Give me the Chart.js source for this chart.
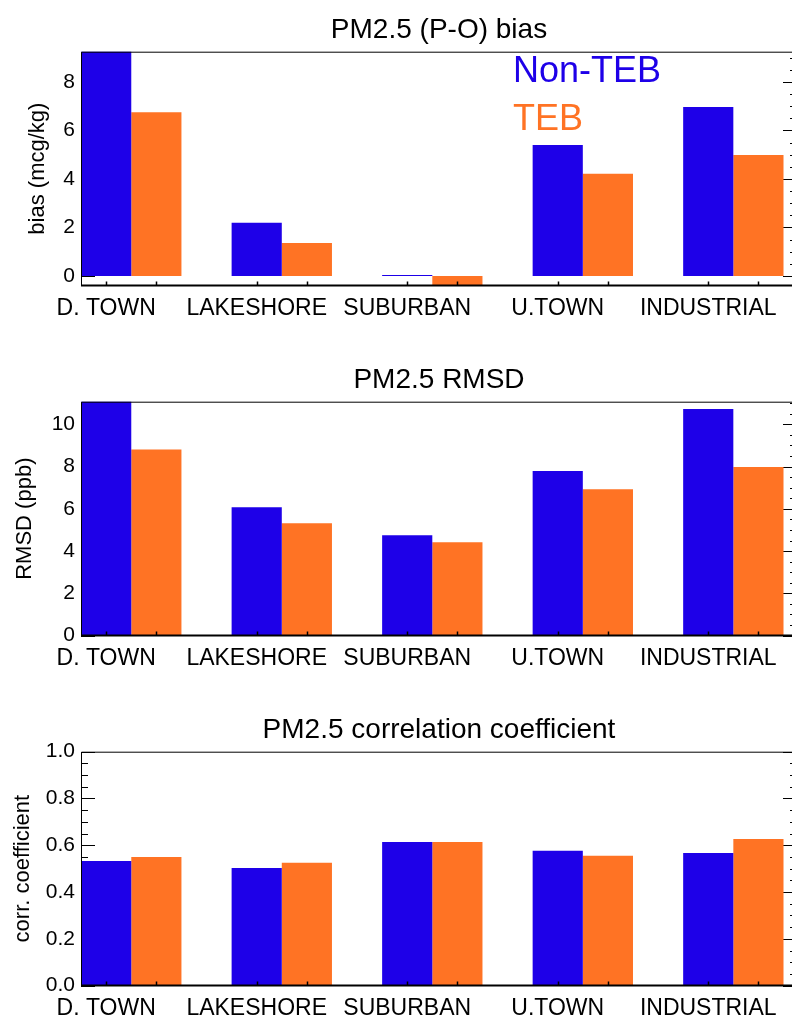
<!DOCTYPE html>
<html>
<head>
<meta charset="utf-8">
<script src="https://cdn.jsdelivr.net/npm/chart.js@4.4.1/dist/chart.umd.min.js"></script>
<style>
    html, body { margin: 0; padding: 0; background: #fff; overflow: hidden; width: 792px; height: 1018px; }
    .panel { position: absolute; left: 0; }
</style>
</head>
<body>
<div class="panel" style="top:0"><canvas id="biasChart" width="800" height="350"></canvas></div>
<div class="panel" style="top:350px"><canvas id="rmsdChart" width="800" height="350"></canvas></div>
<div class="panel" style="top:700px"><canvas id="corrChart" width="800" height="318"></canvas></div>
<script>
// Sites along the x axis
const categories = ['D. TOWN', 'LAKESHORE', 'SUBURBAN', 'U.TOWN', 'INDUSTRIAL'];
const seriesNames = ['Non-TEB', 'TEB'];
const seriesColors = ['#1e00e8', '#ff7324'];

// PM2.5 (P-O) bias, mcg/kg
const biasNonTeb = [9.6, 2.19, 0.04, 5.40, 6.97];
const biasTeb = [6.75, 1.36, -0.38, 4.21, 4.99];
const biasTicks = [0, 2, 4, 6, 8];

// PM2.5 RMSD, ppb
const rmsdNonTeb = [11.4, 6.08, 4.75, 7.79, 10.73];
const rmsdTeb = [8.81, 5.32, 4.42, 6.93, 7.98];
const rmsdTicks = [0, 2, 4, 6, 8, 10];

// PM2.5 correlation coefficient
const corrNonTeb = [0.533, 0.503, 0.614, 0.576, 0.567];
const corrTeb = [0.550, 0.525, 0.614, 0.555, 0.627];
const corrTicks = [0.0, 0.2, 0.4, 0.6, 0.8, 1.0];

const FONT = '"Liberation Sans", Arial, Helvetica, sans-serif';
const PLOT_LEFT = 81;     // y axis box width
const PLOT_BOTTOM = 285.6; // x axis line inside each canvas
const LABEL_SHIFT = 1 / 6; // site names sit under the Non-TEB bar

// Frame, inward tick marks and the text legend
const framePlugin = {
    id: 'frame',
    beforeDatasetsDraw(chart, args, opts) {
        const { ctx, chartArea: a } = chart;
        const y = chart.scales.y;
        ctx.save();
        ctx.strokeStyle = '#000';
        ctx.lineWidth = 1;
        ctx.beginPath();
        const first = Math.ceil(y.min / opts.minor - 1e-9);
        for (let k = first; k * opts.minor <= y.max + 1e-9; k++) {
            const v = k * opts.minor;
            const isMajor = y.ticks.some(t => Math.abs(t.value - v) < 1e-9);
            const len = isMajor ? 14 : 7;
            const py = Math.round(y.getPixelForValue(v)) + 0.5;
            ctx.moveTo(a.left, py);
            ctx.lineTo(a.left + len, py);
            ctx.moveTo(a.right, py);
            ctx.lineTo(a.right - len, py);
        }
        ctx.stroke();
        ctx.restore();
    },
    afterDatasetsDraw(chart, args, opts) {
        const { ctx, chartArea: a } = chart;
        ctx.save();
        ctx.strokeStyle = '#000';

        // x tick marks under every bar
        ctx.lineWidth = 1.5;
        ctx.beginPath();
        chart.data.datasets.forEach((ds, d) => {
            chart.getDatasetMeta(d).data.forEach(bar => {
                const px = Math.round(bar.x) + 0.5;
                ctx.moveTo(px, a.bottom);
                ctx.lineTo(px, a.bottom - 4);
            });
        });
        ctx.stroke();

        // frame
        ctx.lineWidth = 1;
        ctx.beginPath();
        ctx.moveTo(a.left + 0.5, a.bottom);
        ctx.lineTo(a.left + 0.5, a.top + 0.5);
        ctx.lineTo(a.right - 0.5, a.top + 0.5);
        ctx.lineTo(a.right - 0.5, a.bottom);
        ctx.stroke();
        ctx.lineWidth = 2;
        ctx.beginPath();
        ctx.moveTo(a.left, a.bottom);
        ctx.lineTo(a.right, a.bottom);
        ctx.stroke();

        // legend as coloured words
        if (opts.legend) {
            ctx.font = '36px ' + FONT;
            ctx.textAlign = 'left';
            ctx.textBaseline = 'alphabetic';
            chart.data.datasets.forEach((ds, d) => {
                ctx.fillStyle = ds.backgroundColor;
                ctx.fillText(ds.label, a.left + 432, a.top + 30 + d * 48);
            });
        }
        ctx.restore();
    }
};

// Build one panel
function makePanel(cfg) {
    const canvas = document.getElementById(cfg.id);
    const height = canvas.height;
    const series = [cfg.nonTeb, cfg.teb];

    return new Chart(canvas, {
        type: 'bar',
        data: {
            datasets: series.map((values, d) => ({
                label: seriesNames[d],
                data: values.map((v, i) => ({ x: i, y: v })),
                backgroundColor: seriesColors[d],
                borderWidth: 0,
                categoryPercentage: 2 / 3,
                barPercentage: 1,
                clip: 0
            }))
        },
        options: {
            responsive: false,
            animation: false,
            layout: { padding: { top: 0, left: 0, right: 3, bottom: 0 } },
            plugins: {
                legend: { display: false },
                tooltip: { enabled: false },
                title: {
                    display: true,
                    text: cfg.title,
                    fullSize: false,
                    color: '#000',
                    font: { family: FONT, size: 28, weight: 'normal' },
                    padding: { top: 13, bottom: 5.1 }
                },
                frame: { minor: cfg.minor, legend: !!cfg.legend }
            },
            scales: {
                x: {
                    type: 'linear',
                    offset: false,
                    min: -0.334,
                    max: 4.423,
                    grid: { display: false, drawTicks: false, offset: false },
                    border: { display: false },
                    afterBuildTicks: s => {
                        s.ticks = categories.map((c, i) => ({ value: i - LABEL_SHIFT }));
                    },
                    afterFit: s => { s.height = height - PLOT_BOTTOM; },
                    ticks: {
                        autoSkip: false,
                        maxRotation: 0,
                        padding: 9,
                        color: '#000',
                        font: { family: FONT, size: 23 },
                        callback: (v, i) => categories[i]
                    }
                },
                y: {
                    min: cfg.yMin,
                    max: cfg.yMax,
                    grid: { display: false, drawTicks: false },
                    border: { display: false },
                    afterBuildTicks: s => {
                        s.ticks = cfg.ticks.map(v => ({ value: v }));
                    },
                    afterFit: s => { s.width = PLOT_LEFT; },
                    ticks: {
                        padding: 6,
                        color: '#000',
                        font: { family: FONT, size: 21 },
                        callback: v => v.toFixed(cfg.decimals)
                    },
                    title: {
                        display: true,
                        text: cfg.yTitle,
                        color: '#000',
                        font: { family: FONT, size: 22 },
                        padding: { top: cfg.yTitlePad, bottom: 0 }
                    }
                }
            }
        },
        plugins: [framePlugin]
    });
}

makePanel({
    id: 'biasChart', title: 'PM2.5 (P-O) bias', yTitle: 'bias (mcg/kg)',
    nonTeb: biasNonTeb, teb: biasTeb, ticks: biasTicks,
    yMin: -0.4, yMax: 9.25, minor: 0.5, decimals: 0, yTitlePad: 25, legend: true
});
makePanel({
    id: 'rmsdChart', title: 'PM2.5 RMSD', yTitle: 'RMSD (ppb)',
    nonTeb: rmsdNonTeb, teb: rmsdTeb, ticks: rmsdTicks,
    yMin: 0, yMax: 11.07, minor: 0.5, decimals: 0, yTitlePad: 12
});
makePanel({
    id: 'corrChart', title: 'PM2.5 correlation coefficient', yTitle: 'corr. coefficient',
    nonTeb: corrNonTeb, teb: corrTeb, ticks: corrTicks,
    yMin: 0, yMax: 1.0, minor: 0.05, decimals: 1, yTitlePad: 10
});
</script>
</body>
</html>
